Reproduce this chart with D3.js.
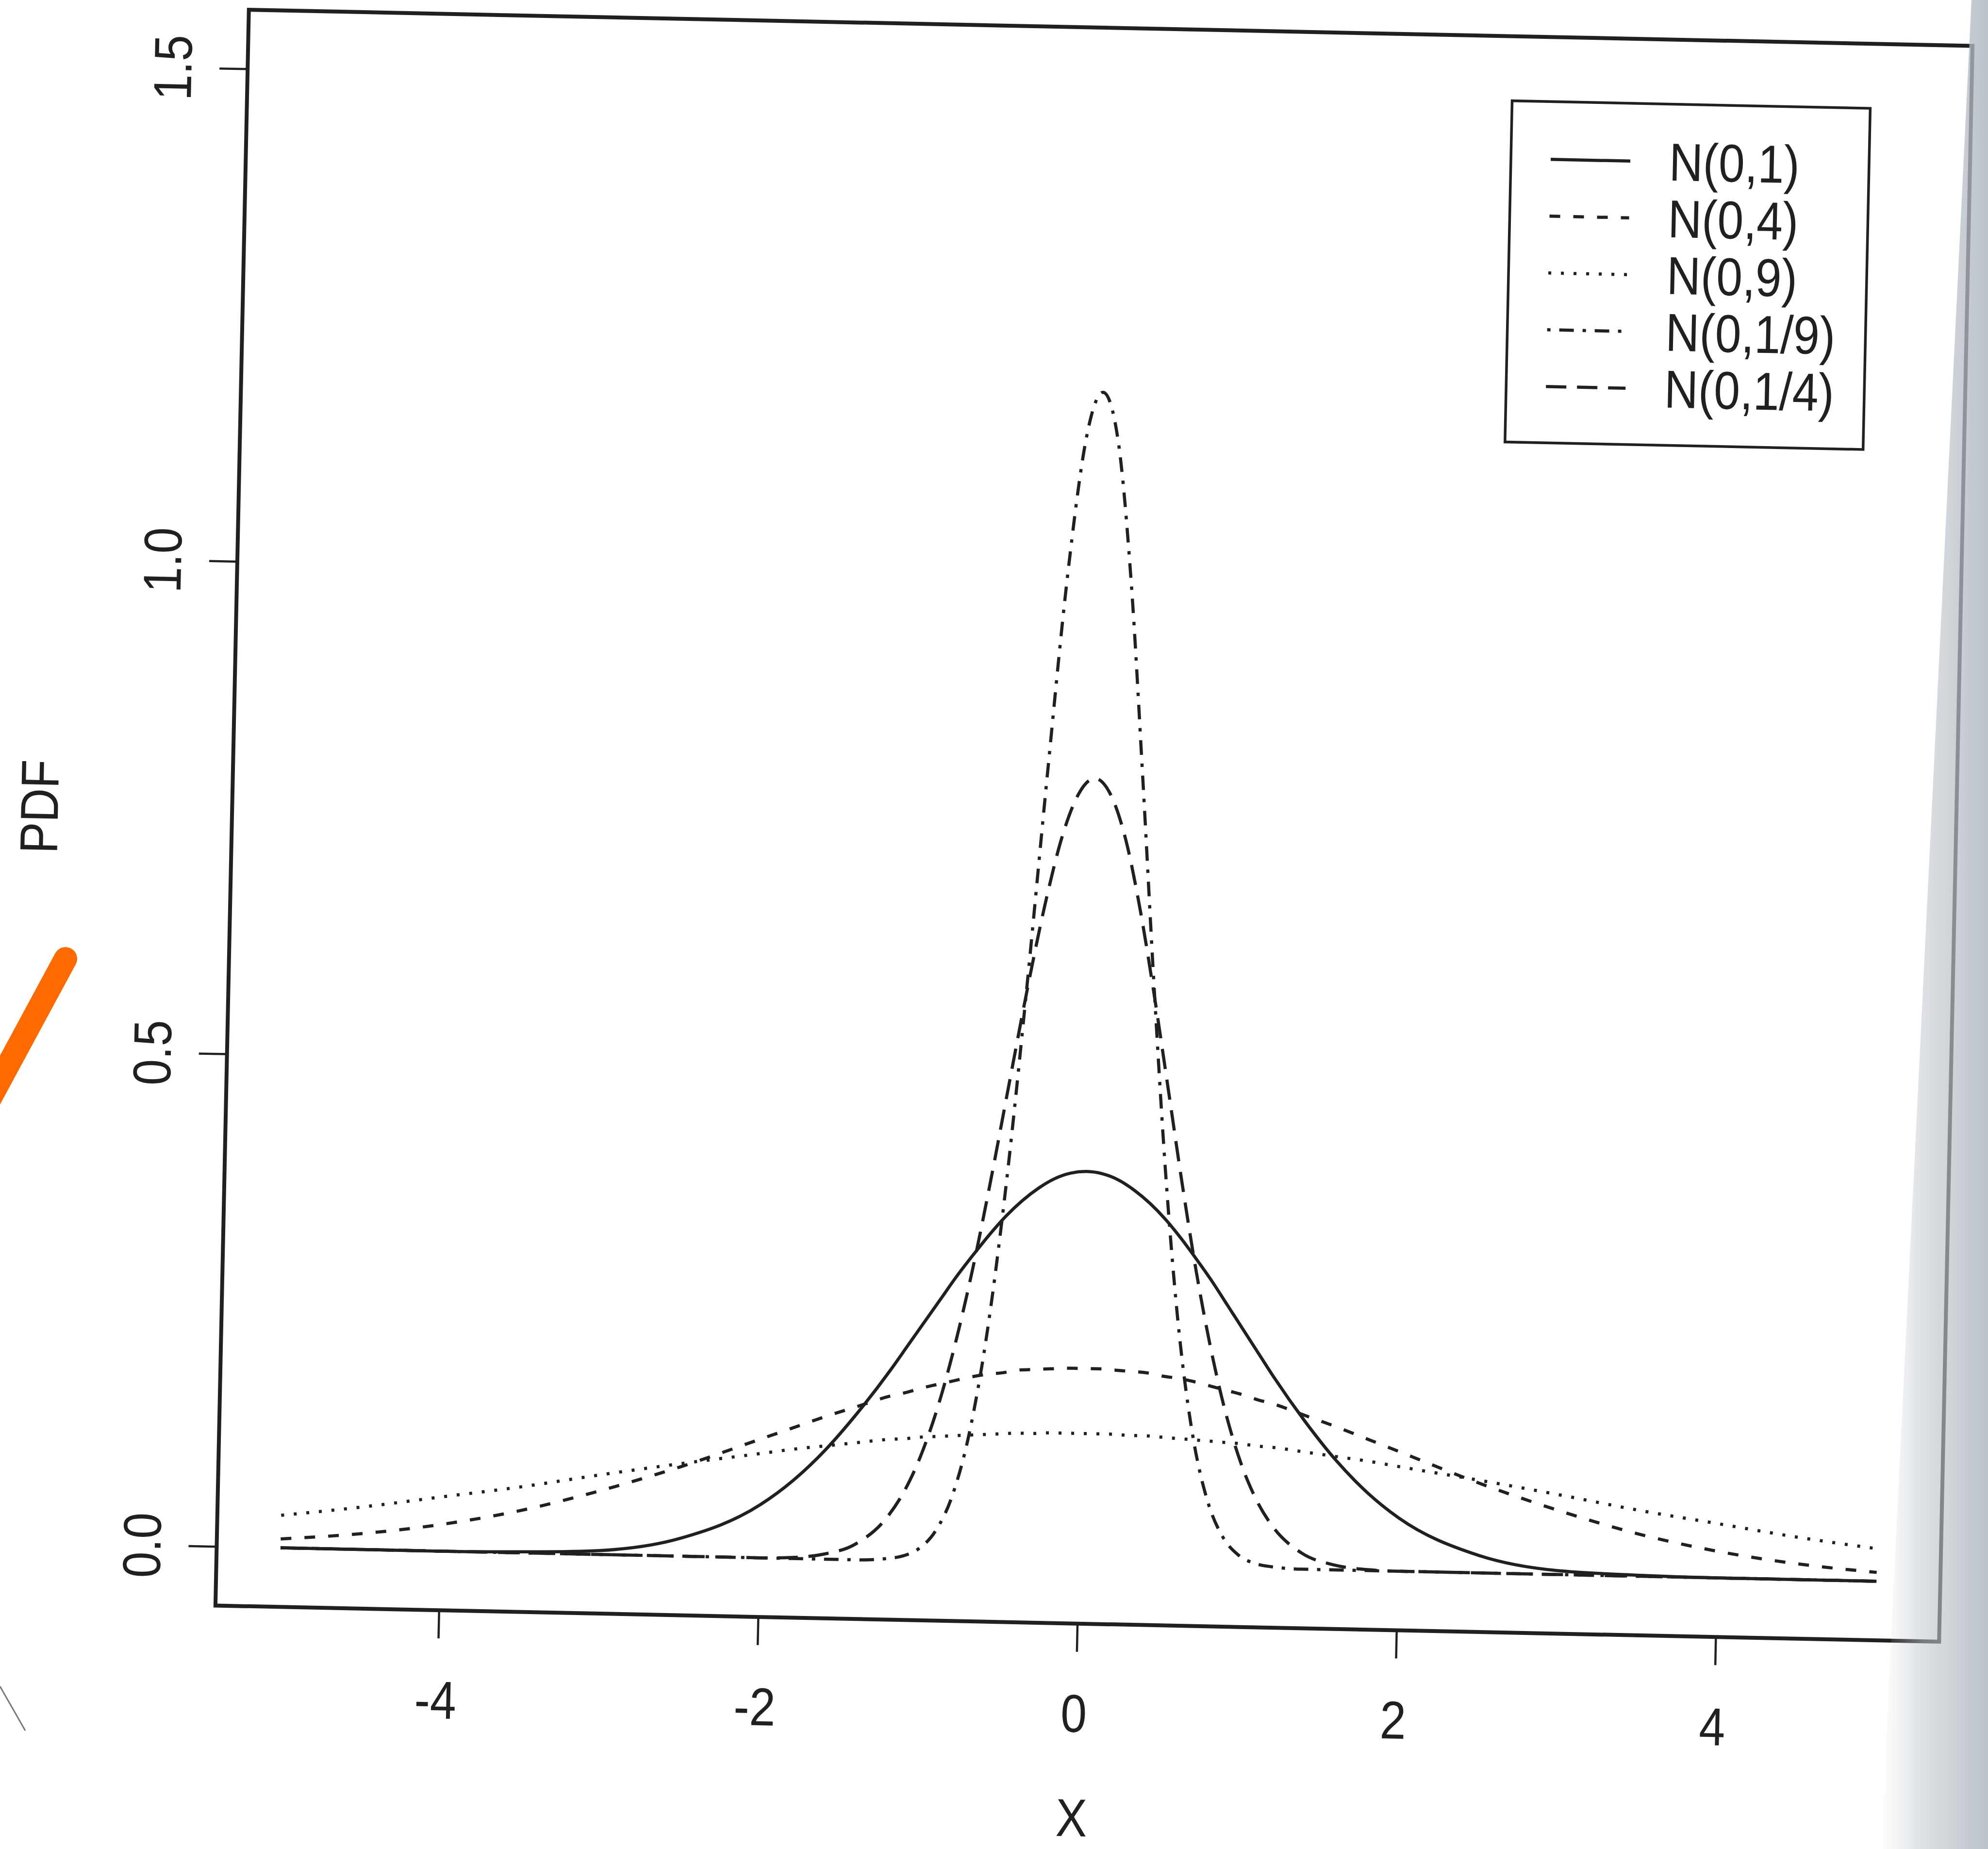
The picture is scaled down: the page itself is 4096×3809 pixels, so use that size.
<!DOCTYPE html>
<html>
<head>
<meta charset="utf-8">
<script src="https://cdn.jsdelivr.net/npm/d3@7"></script>
<style>
  html, body { margin: 0; padding: 0; background: #fff; overflow: hidden; }
  svg { display: block; }
</style>
</head>
<body>
<svg id="chart" width="4096" height="3809"></svg>
<script>
// ---- data ----
const xs = [-5, -4.5, -4, -3.5, -3, -2.5, -2, -1.8, -1.6, -1.4,
  -1.2, -1.1, -1, -0.9, -0.8, -0.7, -0.6, -0.5, -0.4, -0.3, -0.2, -0.1,
  0, 0.1, 0.2, 0.3, 0.4, 0.5, 0.6, 0.7, 0.8, 0.9, 1, 1.1, 1.2,
  1.4, 1.6, 1.8, 2, 2.5, 3, 3.5, 4, 4.5, 5];

const n01 = [0.000, 0.000, 0.000, 0.001, 0.004, 0.018, 0.054, 0.079, 0.111, 0.150,
  0.194, 0.218, 0.242, 0.266, 0.290, 0.312, 0.333, 0.352, 0.368, 0.381, 0.391, 0.397,
  0.399, 0.397, 0.391, 0.381, 0.368, 0.352, 0.333, 0.312, 0.290, 0.266, 0.242, 0.218, 0.194,
  0.150, 0.111, 0.079, 0.054, 0.018, 0.004, 0.001, 0.000, 0.000, 0.000];

const n04 = [0.009, 0.016, 0.027, 0.043, 0.065, 0.091, 0.121, 0.133, 0.145, 0.156,
  0.167, 0.171, 0.176, 0.180, 0.184, 0.188, 0.191, 0.193, 0.196, 0.197, 0.198, 0.199,
  0.199, 0.199, 0.198, 0.197, 0.196, 0.193, 0.191, 0.188, 0.184, 0.180, 0.176, 0.171, 0.167,
  0.156, 0.145, 0.133, 0.121, 0.091, 0.065, 0.043, 0.027, 0.016, 0.009];

const n09 = [0.033, 0.043, 0.055, 0.067, 0.081, 0.094, 0.106, 0.111, 0.115, 0.119,
  0.123, 0.124, 0.126, 0.127, 0.128, 0.129, 0.130, 0.131, 0.132, 0.132, 0.133, 0.133,
  0.133, 0.133, 0.133, 0.132, 0.132, 0.131, 0.130, 0.129, 0.128, 0.127, 0.126, 0.124, 0.123,
  0.119, 0.115, 0.111, 0.106, 0.094, 0.081, 0.067, 0.055, 0.043, 0.033];

const n19 = [0, 0, 0, 0, 0, 0, 0, 0, 0, 0,
  0.002, 0.005, 0.013, 0.031, 0.067, 0.132, 0.237, 0.389, 0.583, 0.798, 1.000, 1.142,
  1.190, 1.142, 1.000, 0.798, 0.583, 0.389, 0.237, 0.132, 0.067, 0.031, 0.013, 0.005, 0.002,
  0, 0, 0, 0, 0, 0, 0, 0, 0, 0];

const n14 = [0, 0, 0, 0, 0, 0, 0.000, 0.001, 0.005, 0.016,
  0.045, 0.071, 0.108, 0.158, 0.222, 0.299, 0.388, 0.484, 0.579, 0.666, 0.737, 0.782,
  0.798, 0.782, 0.737, 0.666, 0.579, 0.484, 0.388, 0.299, 0.222, 0.158, 0.108, 0.071, 0.045,
  0.016, 0.005, 0.001, 0.000, 0, 0, 0, 0, 0, 0];

const seriesNames = ['N(0,1)', 'N(0,4)', 'N(0,9)', 'N(0,1/9)', 'N(0,1/4)'];
const xTicks = [-4, -2, 0, 2, 4];
const xTickLabels = ['-4', '-2', '0', '2', '4'];
const yTicks = [0, 0.5, 1, 1.5];
const yTickLabels = ['0.0', '0.5', '1.0', '1.5'];
const xLabel = 'X', yLabel = 'PDF';

// R line types: solid, dashed, dotted, dotdash, longdash
const lineDash = [null, '22 27', '6 20', '7 18 30 18', '42 22'];

// ---- layout (the scan is tilted ~1.2 degrees) ----
const INK = '#202020', FONT = '"Liberation Sans", Arial, Helvetica, sans-serif';
const FS = 110, SQUEEZE = 0.88, TICK = 58, LW = 6.5;
const CX = 2254, CY = 1701, TILT = 1.2;
const UX = 328.9, UY = 2029.7;

const x = d3.scaleLinear().domain([-5.4, 5.4]).range([CX - 5.4 * UX, CX + 5.4 * UX]);
const y = d3.scaleLinear().domain([-0.06, 1.56]).range([CY + 0.81 * UY, CY - 0.81 * UY]);

const svg = d3.select('#chart');
svg.append('rect').attr('width', 4096).attr('height', 3809).attr('fill', '#fff');

const page = svg.append('g').attr('transform', `rotate(${TILT},${CX},${CY})`);

// curves
const series = seriesNames.map((name, i) => ({
  name, dash: lineDash[i],
  values: [n01, n04, n09, n19, n14][i].map((v, j) => ({ x: xs[j], y: v }))
}));

const line = d3.line().x(d => x(d.x)).y(d => y(d.y)).curve(d3.curveMonotoneX);

page.append('g').selectAll('path')
  .data(series)
  .join('path')
    .attr('d', d => line(d.values))
    .attr('fill', 'none')
    .attr('stroke', INK)
    .attr('stroke-width', LW)
    .attr('stroke-dasharray', d => d.dash);

// box
page.append('rect')
  .attr('x', x(-5.4)).attr('y', y(1.56))
  .attr('width', x(5.4) - x(-5.4)).attr('height', y(-0.06) - y(1.56))
  .attr('fill', 'none').attr('stroke', INK).attr('stroke-width', 8);

// x axis
const gx = page.append('g')
  .attr('transform', `translate(0,${y(-0.06)})`)
  .call(d3.axisBottom(x).tickValues(xTicks).tickFormat((d, i) => xTickLabels[i]).tickSize(TICK))
  .attr('font-size', FS).attr('font-family', FONT).attr('color', INK);
gx.select('.domain').remove();
gx.selectAll('.tick line').attr('stroke-width', 4.5);
gx.selectAll('.tick text')
  .attr('y', null).attr('dy', null)
  .attr('dominant-baseline', 'central')
  .attr('transform', `translate(-4,185) scale(${SQUEEZE},1)`);

// y axis
const gy = page.append('g')
  .attr('transform', `translate(${x(-5.4)},0)`)
  .call(d3.axisLeft(y).tickValues(yTicks).tickFormat((d, i) => yTickLabels[i]).tickSize(TICK))
  .attr('font-size', FS).attr('font-family', FONT).attr('color', INK);
gy.select('.domain').remove();
gy.selectAll('.tick line').attr('stroke-width', 4.5);
gy.selectAll('.tick text')
  .attr('x', null).attr('dy', null)
  .attr('text-anchor', 'middle')
  .attr('dominant-baseline', 'central')
  .attr('transform', `translate(-154,0) rotate(-90) scale(${SQUEEZE},1)`);

// axis titles
page.append('text')
  .attr('transform', `translate(${CX - 4},${CY + 2044}) scale(${SQUEEZE},1)`)
  .attr('text-anchor', 'middle').attr('dominant-baseline', 'central')
  .attr('font-size', FS).attr('font-family', FONT).attr('fill', INK)
  .text(xLabel);

page.append('text')
  .attr('transform', `translate(${x(-5.4) - 397},${CY + 6}) rotate(-90) scale(${SQUEEZE},1)`)
  .attr('text-anchor', 'middle').attr('dominant-baseline', 'central')
  .attr('font-size', FS).attr('font-family', FONT).attr('fill', INK)
  .text(yLabel);

// legend (top right)
const LG = { left: x(5.4) - 946, top: y(1.56) + 133, w: 738, h: 703, row: 117 };
const lg = page.append('g').attr('transform', `translate(${LG.left},${LG.top})`);
lg.append('rect').attr('width', LG.w).attr('height', LG.h)
  .attr('fill', '#fff').attr('stroke', INK).attr('stroke-width', 5.5);

const rows = lg.selectAll('g.row').data(series).join('g')
  .attr('class', 'row')
  .attr('transform', (d, i) => `translate(0,${119 + i * LG.row})`);
rows.append('line')
  .attr('x1', 82).attr('x2', 246)
  .attr('stroke', INK).attr('stroke-width', LW)
  .attr('stroke-dasharray', d => d.dash);
rows.append('text')
  .attr('transform', `translate(326,0) scale(${SQUEEZE},1)`)
  .attr('dominant-baseline', 'central')
  .attr('font-size', FS).attr('font-family', FONT).attr('fill', INK)
  .text(d => d.name);

// scan artefacts: page shadow at the right edge and a pen stroke at the left
const defs = svg.append('defs');
const sh = defs.append('linearGradient').attr('id', 'shadow').attr('x1', 0).attr('x2', 1);
sh.append('stop').attr('offset', '0%').attr('stop-color', '#c8ced4').attr('stop-opacity', 0);
sh.append('stop').attr('offset', '40%').attr('stop-color', '#bfc6cd').attr('stop-opacity', 0.55);
sh.append('stop').attr('offset', '100%').attr('stop-color', '#aeb6be').attr('stop-opacity', 0.85);
svg.append('path')
  .attr('d', 'M4062,0 L4096,0 L4096,3809 L3875,3809 Z')
  .attr('fill', 'url(#shadow)');

svg.append('line')
  .attr('x1', 135).attr('y1', 1975).attr('x2', -20).attr('y2', 2262)
  .attr('stroke', '#ff6a00').attr('stroke-width', 48).attr('stroke-linecap', 'round');
svg.append('line')
  .attr('x1', 0).attr('y1', 3474).attr('x2', 52).attr('y2', 3565)
  .attr('stroke', '#777').attr('stroke-width', 3);
</script>
</body>
</html>
